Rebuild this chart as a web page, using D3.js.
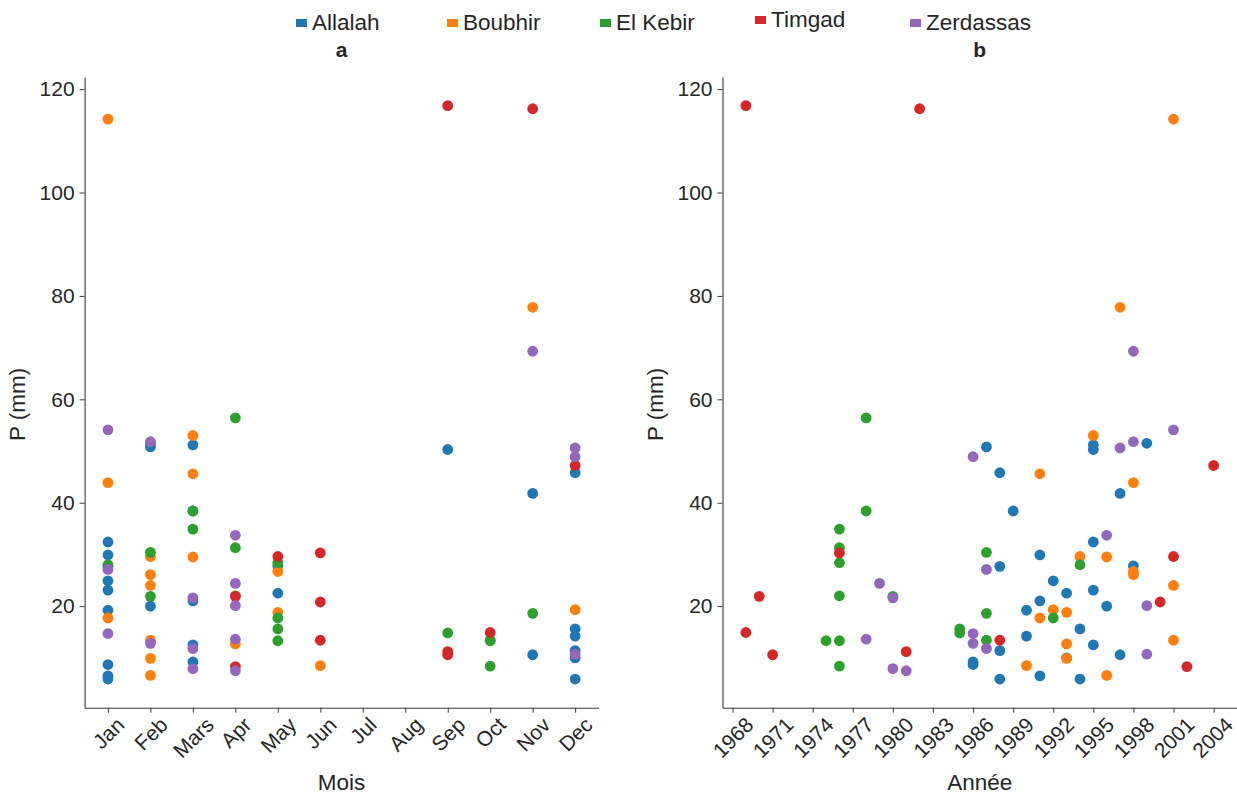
<!DOCTYPE html>
<html>
<head>
<meta charset="utf-8">
<script src="https://cdn.jsdelivr.net/npm/d3@7"></script>
<style>
  html, body { margin: 0; padding: 0; background: #fff; }
  svg { display: block; font-family: "Liberation Sans", Arial, sans-serif; }
</style>
</head>
<body>
<script>
// Stations and their colours
const stations = ["Allalah", "Boubhir", "El Kebir", "Timgad", "Zerdassas"];
const stationColors = ["#1f77b4", "#ff7f0e", "#2ca02c", "#d62728", "#9467bd"];

// Month tick labels (1..12) and year ticks
const monthLabels = ["Jan", "Feb", "Mars", "Apr", "May", "Jun", "Jul", "Aug", "Sep", "Oct", "Nov", "Dec"];
const yearTicks = [1968, 1971, 1974, 1977, 1980, 1983, 1986, 1989, 1992, 1995, 1998, 2001, 2004];
const pTicks = [20, 40, 60, 80, 100, 120];

// Precipitation events by month: [month, P (mm)]
const allalahMonthly = [
  [1, 32.4], [1, 29.9], [1, 27.7], [1, 24.9], [1, 23.1], [1, 19.2], [1, 8.7], [1, 6.5], [1, 5.9],
  [2, 51.5], [2, 50.8], [2, 20.0],
  [3, 51.2], [3, 38.4], [3, 21.0], [3, 12.5], [3, 9.2],
  [5, 27.8], [5, 22.5],
  [9, 50.3],
  [11, 41.8], [11, 10.6],
  [12, 45.8], [12, 15.6], [12, 14.2], [12, 11.4], [12, 10.0], [12, 5.9]
];
const boubhirMonthly = [
  [1, 114.2], [1, 43.9], [1, 17.7],
  [2, 29.6], [2, 26.1], [2, 24.0], [2, 13.4], [2, 9.9], [2, 6.6],
  [3, 53.0], [3, 45.6], [3, 29.5],
  [4, 12.7],
  [5, 26.7], [5, 18.8],
  [6, 8.5],
  [11, 77.8],
  [12, 19.3]
];
const elKebirMonthly = [
  [1, 28.0],
  [2, 30.4], [2, 21.9],
  [3, 38.4], [3, 34.9],
  [4, 56.4], [4, 31.3], [4, 22.0],
  [5, 28.4], [5, 17.7], [5, 15.6], [5, 13.3],
  [9, 14.8],
  [10, 13.4], [10, 13.3], [10, 8.4],
  [11, 18.6]
];
const timgadMonthly = [
  [4, 21.9], [4, 8.3],
  [5, 29.6],
  [6, 30.3], [6, 20.8], [6, 13.4],
  [9, 116.8], [9, 11.2], [9, 10.6],
  [10, 14.9],
  [11, 116.2],
  [12, 47.2]
];
const zerdassasMonthly = [
  [1, 54.1], [1, 27.1], [1, 14.7],
  [2, 51.8], [2, 12.8],
  [3, 21.6], [3, 11.8], [3, 7.9],
  [4, 33.7], [4, 24.4], [4, 20.1], [4, 13.6], [4, 7.5],
  [11, 69.3],
  [12, 50.6], [12, 48.9], [12, 10.7]
];

// Precipitation events by year: [year, P (mm)]
const allalahAnnual = [
  [1986, 9.2], [1986, 8.7], [1987, 50.8], [1988, 45.8], [1988, 27.7], [1988, 11.4], [1988, 5.9],
  [1989, 38.4], [1990, 19.2], [1990, 14.2], [1991, 29.9], [1991, 21.0], [1991, 6.5], [1992, 24.9],
  [1993, 22.5], [1993, 10.0], [1994, 15.6], [1994, 5.9], [1995, 51.2], [1995, 50.3], [1995, 32.4],
  [1995, 23.1], [1995, 12.5], [1996, 20.0], [1997, 41.8], [1997, 10.6], [1998, 27.8], [1999, 51.5]
];
const boubhirAnnual = [
  [1990, 8.5], [1991, 45.6], [1991, 17.7], [1992, 19.3], [1993, 18.8], [1993, 12.7], [1993, 9.9],
  [1994, 29.6], [1995, 53.0], [1996, 29.5], [1996, 6.6], [1997, 77.8], [1998, 43.9], [1998, 26.7],
  [1998, 26.1], [2001, 114.2], [2001, 24.0], [2001, 13.4]
];
const elKebirAnnual = [
  [1975, 13.3], [1976, 34.9], [1976, 31.3], [1976, 28.4], [1976, 22.0], [1976, 13.3], [1976, 8.4],
  [1978, 56.4], [1978, 38.4], [1980, 21.9], [1985, 15.6], [1985, 14.8], [1987, 30.4], [1987, 18.6],
  [1987, 13.4], [1992, 17.7], [1994, 28.0]
];
const timgadAnnual = [
  [1969, 116.8], [1969, 14.9], [1970, 21.9], [1971, 10.6], [1976, 30.3], [1981, 11.2],
  [1982, 116.2], [1988, 13.4], [2000, 20.8], [2001, 29.6], [2002, 8.3], [2004, 47.2]
];
const zerdassasAnnual = [
  [1978, 13.6], [1979, 24.4], [1980, 21.6], [1980, 7.9], [1981, 7.5], [1986, 48.9], [1986, 14.7],
  [1986, 12.8], [1987, 27.1], [1987, 11.8], [1996, 33.7], [1997, 50.6], [1998, 51.8], [1998, 69.3],
  [1999, 20.1], [1999, 10.7], [2001, 54.1]
];

const monthlySeries = [allalahMonthly, boubhirMonthly, elKebirMonthly, timgadMonthly, zerdassasMonthly];
const annualSeries = [allalahAnnual, boubhirAnnual, elKebirAnnual, timgadAnnual, zerdassasAnnual];

// ---------------------------------------------------------------------------
const W = 1237, H = 797;
const TICK_FONT = 21, TITLE_FONT = 22.5;
const TEXT = "#262626", LINE = "#3a3a3a";
const plotTop = 77, plotBottom = 707.7;

const svg = d3.select("body").append("svg").attr("width", W).attr("height", H);

// Pad an extent by 5% on each side
function padded(ext) {
  const d = (ext[1] - ext[0]) * 0.05;
  return [ext[0] - d, ext[1] + d];
}

const allP = monthlySeries.concat(annualSeries).flat().map(d => d[1]);
const y = d3.scaleLinear().domain(padded(d3.extent(allP))).range([plotBottom, plotTop]);

const xMonth = d3.scaleLinear().domain(padded([1, monthLabels.length])).range([84.6, 598.5]);
const xYear = d3.scaleLinear()
  .domain(padded(d3.extent(annualSeries.flat(), d => d[0])))
  .range([722.5, 1237]);

function drawPanel(x, seriesList, tickValues, tickFormat, xTitle, letter) {
  const g = svg.append("g");
  const [x0, x1] = x.range();

  // y axis
  const ya = g.append("g").attr("transform", `translate(${x0},0)`)
    .call(d3.axisLeft(y).tickValues(pTicks).tickSize(5).tickSizeOuter(0).tickPadding(5));
  ya.selectAll("text").attr("font-size", TICK_FONT).attr("fill", TEXT);

  // x axis with labels turned 45 degrees
  const xa = g.append("g").attr("transform", `translate(0,${plotBottom})`)
    .call(d3.axisBottom(x).tickValues(tickValues).tickFormat(tickFormat).tickSize(5).tickSizeOuter(0));
  xa.selectAll("text")
    .attr("font-size", TICK_FONT).attr("fill", TEXT)
    .attr("text-anchor", "middle").attr("x", 0).attr("y", 0).attr("dy", "0.35em")
    .attr("transform", function () {
      const len = this.getComputedTextLength();
      const half = (len + TICK_FONT * 0.72) / (2 * Math.SQRT2);
      // keep the last label inside the right edge
      const shift = Math.min(0, W - 1 - (x(+this.__data__) + half + 2));
      return `translate(${shift},${5 + 3 + half}) rotate(-45)`;
    });

  [ya, xa].forEach(a => {
    a.attr("font-family", null);
    a.select(".domain").attr("stroke", LINE).attr("stroke-width", 1.1);
    a.selectAll(".tick line").attr("stroke", LINE).attr("stroke-width", 1);
  });

  // points, one station after another
  seriesList.forEach((data, i) => {
    g.append("g").selectAll("circle").data(data).join("circle")
      .attr("cx", d => x(d[0]))
      .attr("cy", d => y(d[1]))
      .attr("r", 5.4)
      .attr("fill", stationColors[i]);
  });

  // titles
  g.append("text").attr("x", (x0 + x1) / 2).attr("y", 790)
    .attr("text-anchor", "middle").attr("font-size", TITLE_FONT).attr("fill", TEXT).text(xTitle);
  g.append("text")
    .attr("transform", `translate(${x0 - 60},${(plotTop + plotBottom) / 2 + 12}) rotate(-90)`)
    .attr("text-anchor", "middle").attr("font-size", TITLE_FONT).attr("fill", TEXT).text("P (mm)");
  g.append("text").attr("x", (x0 + x1) / 2).attr("y", 57)
    .attr("text-anchor", "middle").attr("font-size", TICK_FONT).attr("font-weight", "bold")
    .attr("fill", TEXT).text(letter);
}

drawPanel(xMonth, monthlySeries, d3.range(1, 13), i => monthLabels[i - 1], "Mois", "a");
drawPanel(xYear, annualSeries, yearTicks, d3.format("d"), "Année", "b");

// Legend across the top
const legendX = [296, 447, 600, 755, 910];
const legend = svg.append("g");
stations.forEach((name, i) => {
  const lift = name === "Timgad" ? -3 : 0;
  legend.append("rect")
    .attr("x", legendX[i]).attr("y", 19 + lift).attr("width", 11).attr("height", 8)
    .attr("fill", stationColors[i]);
  legend.append("text")
    .attr("x", legendX[i] + 16).attr("y", 30 + lift)
    .attr("font-size", TITLE_FONT).attr("fill", TEXT).text(name);
});
</script>
</body>
</html>
